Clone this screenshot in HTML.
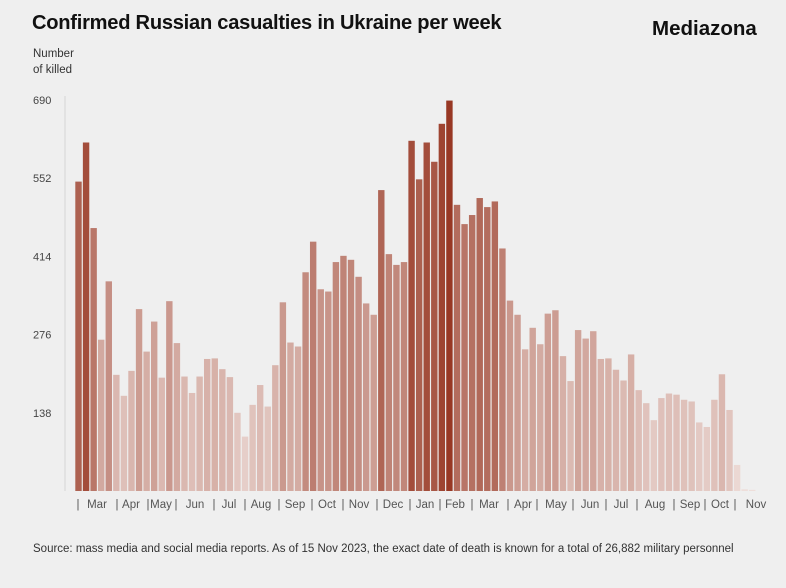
<!DOCTYPE html>
<html><head><meta charset="utf-8"><style>
body{margin:0;background:#efefef;font-family:"Liberation Sans",sans-serif;}
#wrap{position:relative;width:786px;height:588px;background:#efefef;overflow:hidden}
.t{position:absolute;white-space:nowrap}
</style></head><body>
<div id="wrap">
<div class="t" style="left:32px;top:12px;font-size:20.1px;font-weight:bold;color:#111;letter-spacing:-0.25px">Confirmed Russian casualties in Ukraine per week</div>
<div class="t" style="left:652px;top:17px;font-size:20.5px;font-weight:bold;color:#111">Mediazona</div>
<div class="t" style="left:33px;top:46px;font-size:11.5px;line-height:16px;color:#333">Number<br>of killed</div>
<svg id="chart" width="786" height="588" style="position:absolute;left:0;top:0"></svg>
<div class="t" style="left:33px;top:543px;font-size:11.5px;color:#333">Source: mass media and social media reports. As of 15 Nov 2023, the exact date of death is known for a total of 26,882 military personnel</div>
</div>
<script>
const values=[546,615,464,267,370,205,168,212,321,246,299,200,335,261,202,173,202,233,234,215,201,138,96,152,187,149,222,333,262,255,386,440,356,352,404,415,408,378,331,311,531,418,399,404,618,550,615,581,648,689,505,471,487,517,501,511,428,336,311,250,288,259,313,319,238,194,284,269,282,233,234,214,195,241,178,155,125,164,172,170,161,158,121,113,161,206,143,46,3,2];
const yTicks=[138,276,414,552,690];
const monthLabels=["|","Mar","|","Apr","|","May","|","Jun","|","Jul","|","Aug","|","Sep","|","Oct","|","Nov","|","Dec","|","Jan","|","Feb","|","Mar","|","Apr","|","May","|","Jun","|","Jul","|","Aug","|","Sep","|","Oct","|","Nov"];
const monthX=[78,97,117,131,148,161,176,195,214,229,245,261,279,295,312,327,343,359,377,393,410,425,440,455,472,489,508,523,537,556,573,590,606,621,637,655,674,690,705,720,735,756];
const NS="http://www.w3.org/2000/svg";
const svg=document.getElementById('chart');
const y0=491,yTop=100,vMax=690,x0=75.3,step=7.57,bw=6.4;
const yS=v=>y0-(v/vMax)*(y0-yTop);
const xS=i=>x0+i*step;
function mk(t,a){const e=document.createElementNS(NS,t);for(const k in a)e.setAttribute(k,a[k]);svg.appendChild(e);return e;}
const ax=mk('line',{x1:65,y1:96,x2:65,y2:491,stroke:'#d4d4d4','stroke-width':1});


yTicks.forEach(v=>{const t=mk('text',{x:33,y:yS(v)+4,'font-size':11,fill:'#444','font-family':'Liberation Sans, sans-serif'});t.textContent=v;

});
function col(v){const f=Math.min(1,v/690);const a=[238,222,218],b=[152,56,36];
const g=Math.pow(f,1.2);return `rgb(${a.map((c,i)=>Math.round(c+(b[i]-c)*g)).join(',')})`;}
values.forEach((v,i)=>{const r=mk('rect',{x:xS(i),y:yS(v),width:bw,height:y0-yS(v),fill:col(v)});

});
monthLabels.forEach((m,i)=>{const t=mk('text',{x:monthX[i],y:508,'font-size':11.5,fill:'#555','text-anchor':'middle','font-family':'Liberation Sans, sans-serif'});t.textContent=m;

});
</script>
</body></html>
